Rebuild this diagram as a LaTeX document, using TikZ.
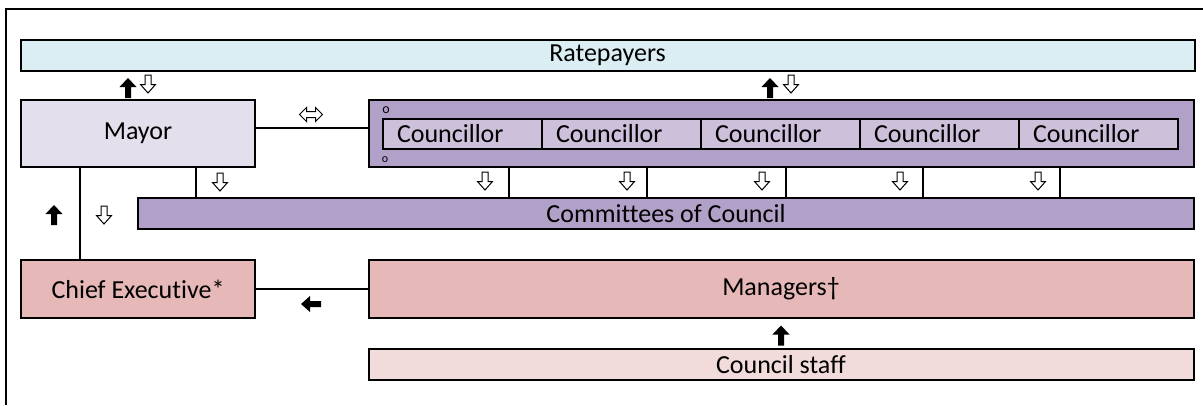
\documentclass[tikz,border=0pt]{standalone}
\usepackage{fontspec}
\setmainfont{Carlito}[Ligatures=NoCommon]
\definecolor{cRate}{HTML}{DAEEF3}
\definecolor{cMayor}{HTML}{E4DFEC}
\definecolor{cCouncil}{HTML}{B1A0C7}
\definecolor{cCell}{HTML}{CCC0DA}
\definecolor{cExec}{HTML}{E6B8B7}
\definecolor{cStaff}{HTML}{F2DCDB}
\begin{document}
\begin{tikzpicture}[x=1pt,y=-1pt,
  box/.style={draw, line width=2pt, inner sep=0pt, font=\fontsize{26}{30}\selectfont},
  cellbox/.style={draw, line width=2pt, fill=cCell, inner xsep=14pt, inner ysep=0pt,
     text width=131pt, minimum height=30pt, align=left, font=\fontsize{26}{30}\selectfont},
  conn/.style={line width=1.5pt},
  bup/.pic={\fill (-3,10) -- (3,10) -- (3,-1) -- (8.5,-1) -- (0,-10) -- (-8.5,-1) -- (-3,-1) -- cycle;},
  bleft/.pic={\fill (10,-3) -- (10,3) -- (-1,3) -- (-1,8) -- (-10,0) -- (-1,-8) -- (-1,-3) -- cycle;},
  wdown/.pic={\draw[line width=1pt, fill=white] (-3,-9) -- (3,-9) -- (3,0.5) -- (7.5,0.5) -- (0,9) -- (-7.5,0.5) -- (-3,0.5) -- cycle;},
  wboth/.pic={\draw[line width=1pt, fill=white] (-11.5,0) -- (-4.5,-7) -- (-4.5,-3) -- (4.5,-3) -- (4.5,-7) -- (11.5,0) -- (4.5,7) -- (4.5,3) -- (-4.5,3) -- (-4.5,7) -- cycle;}
]
\useasboundingbox (0,0) rectangle (1203,405);
% outer frame (right and bottom edges fall outside the picture)
\draw[line width=2pt] (6,405) -- (6,8.5) -- (1203,8.5);

% boxes
\node[box, fill=cRate, minimum width=1174pt, minimum height=31pt] (rate) at (607.5,55.5) {Ratepayers};
\node[box, fill=cMayor, minimum width=234pt, minimum height=67pt] (mayor) at (138,133.5) {Mayor};
\node[box, fill=cCouncil, minimum width=825pt, minimum height=67pt] (council) at (781,133.5) {};
\node[cellbox] (c1) at (462.5,134) {Councillor};
\node[cellbox] (c2) at (621.5,134) {Councillor};
\node[cellbox] (c3) at (780.5,134) {Councillor};
\node[cellbox] (c4) at (939.5,134) {Councillor};
\node[cellbox] (c5) at (1098.5,134) {Councillor};
\node[font=\fontsize{14}{14}\selectfont, inner sep=0pt] (o1) at (386,110) {o};
\node[font=\fontsize{12}{12}\selectfont, inner sep=0pt] (o2) at (385,159.5) {o};
\node[box, fill=cCouncil, minimum width=1056pt, minimum height=31pt] (comm) at (666,213.5) {Committees of Council};
\node[box, fill=cExec, minimum width=234pt, minimum height=58pt] (chief) at (138,289) {Chief Executive*};
\node[box, fill=cExec, minimum width=825pt, minimum height=58pt] (mgr) at (781,289) {Managers\textdagger};
\node[box, fill=cStaff, minimum width=825pt, minimum height=31pt] (staff) at (781,364.5) {Council staff};

% connectors
\draw[conn] ([yshift=5.5pt]mayor.east) -- ([yshift=5.5pt]council.west);
\foreach \xx in {509,647,786,923,1060}
  \draw[conn] (\xx,0 |- council.south) -- (\xx,0 |- comm.north);
\draw[conn] (196,0 |- mayor.south) -- (196,0 |- comm.north);
\draw[conn] (80,0 |- mayor.south) -- (80,0 |- chief.north);
\draw[conn] (chief.east) -- (mgr.west);

% arrow marks
\pic at (128,88) {bup};
\pic at (148,84) {wdown};
\pic at (770,88) {bup};
\pic at (791,84) {wdown};
\pic at (311,114.5) {wboth};
\foreach \xx in {485,627,762,900,1038}
  \pic at (\xx,181) {wdown};
\pic at (220,182) {wdown};
\pic at (54,215) {bup};
\pic at (104,215) {wdown};
\pic at (311,304) {bleft};
\pic at (781,335.5) {bup};
\end{tikzpicture}
\end{document}
